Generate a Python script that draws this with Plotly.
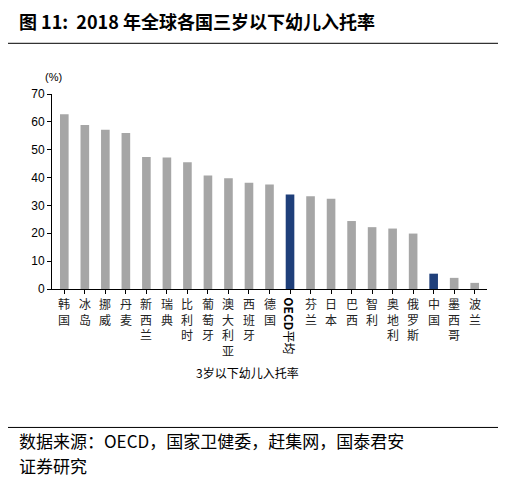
import plotly.graph_objects as go

countries = ['韩国', '冰岛', '挪威', '丹麦', '新西兰', '瑞典', '比利时', '葡萄牙', '澳大利亚', '西班牙',
             '德国', 'OECD平均', '芬兰', '日本', '巴西', '智利', '奥地利', '俄罗斯', '中国', '墨西哥', '波兰']
rates = [62.7, 58.9, 57.2, 56.0, 47.4, 47.2, 45.5, 40.7, 39.8, 38.1,
         37.5, 33.9, 33.3, 32.4, 24.4, 22.2, 21.7, 19.9, 5.5, 4.0, 2.2]

colors = ['#1F3F7A' if c in ('OECD平均', '中国') else '#A6A6A6' for c in countries]
font = 'Noto Sans CJK SC'

fig = go.Figure(go.Bar(x=countries, y=rates, marker=dict(color=colors, line=dict(width=0)), width=0.42))

ann = []
for c in countries:
    if c == 'OECD平均':
        ann.append(dict(x=c, y=-0.03, xref='x', yref='paper', text='<b>OECD</b>平均', textangle=90,
                        showarrow=False, xanchor='center', yanchor='top',
                        font=dict(family=font, size=12, color='black')))
    else:
        ann.append(dict(x=c, y=-0.02, xref='x', yref='paper', text='<br>'.join(c),
                        showarrow=False, xanchor='center', yanchor='top',
                        font=dict(family=font, size=12, color='#222')))

ann += [
    dict(x=-0.02, y=1.13, xref='paper', yref='paper', text='(%)', showarrow=False,
         font=dict(family='Arial', size=11, color='black'), xanchor='left'),
    dict(x=0.45, y=-0.48, xref='paper', yref='paper', text='3岁以下幼儿入托率', showarrow=False,
         font=dict(family=font, size=12, color='black')),
    dict(x=-0.08, y=1.45, xref='paper', yref='paper', text='<b>图 11:  2018 年全球各国三岁以下幼儿入托率</b>',
         showarrow=False, xanchor='left', font=dict(family=font, size=18, color='black')),
    dict(x=-0.08, y=-0.85, xref='paper', yref='paper', text='数据来源：OECD，国家卫健委，赶集网，国泰君安',
         showarrow=False, xanchor='left', font=dict(family=font, size=17, color='black')),
    dict(x=-0.08, y=-0.98, xref='paper', yref='paper', text='证券研究',
         showarrow=False, xanchor='left', font=dict(family=font, size=17, color='black')),
]

fig.update_layout(
    width=506, height=496,
    margin=dict(l=44, r=27, t=86, b=215, autoexpand=False),
    plot_bgcolor='white', paper_bgcolor='white',
    showlegend=False,
    annotations=ann,
    shapes=[
        dict(type='line', xref='paper', yref='paper', x0=-0.2, x1=1.2, y0=1.26, y1=1.26,
             line=dict(color='black', width=1)),
        dict(type='line', xref='paper', yref='paper', x0=-0.2, x1=1.2, y0=-0.71, y1=-0.71,
             line=dict(color='black', width=1)),
    ],
    xaxis=dict(showticklabels=False, showline=True, linecolor='black', ticks='outside',
               ticklen=4, tickcolor='black', range=[-0.6, 20.6]),
    yaxis=dict(range=[0, 70], dtick=10, showgrid=False, showline=True, linecolor='black',
               ticks='outside', ticklen=4, tickcolor='black', automargin=False,
               tickfont=dict(family='Arial', size=12, color='black')),
)

fig.write_html('out.html')
